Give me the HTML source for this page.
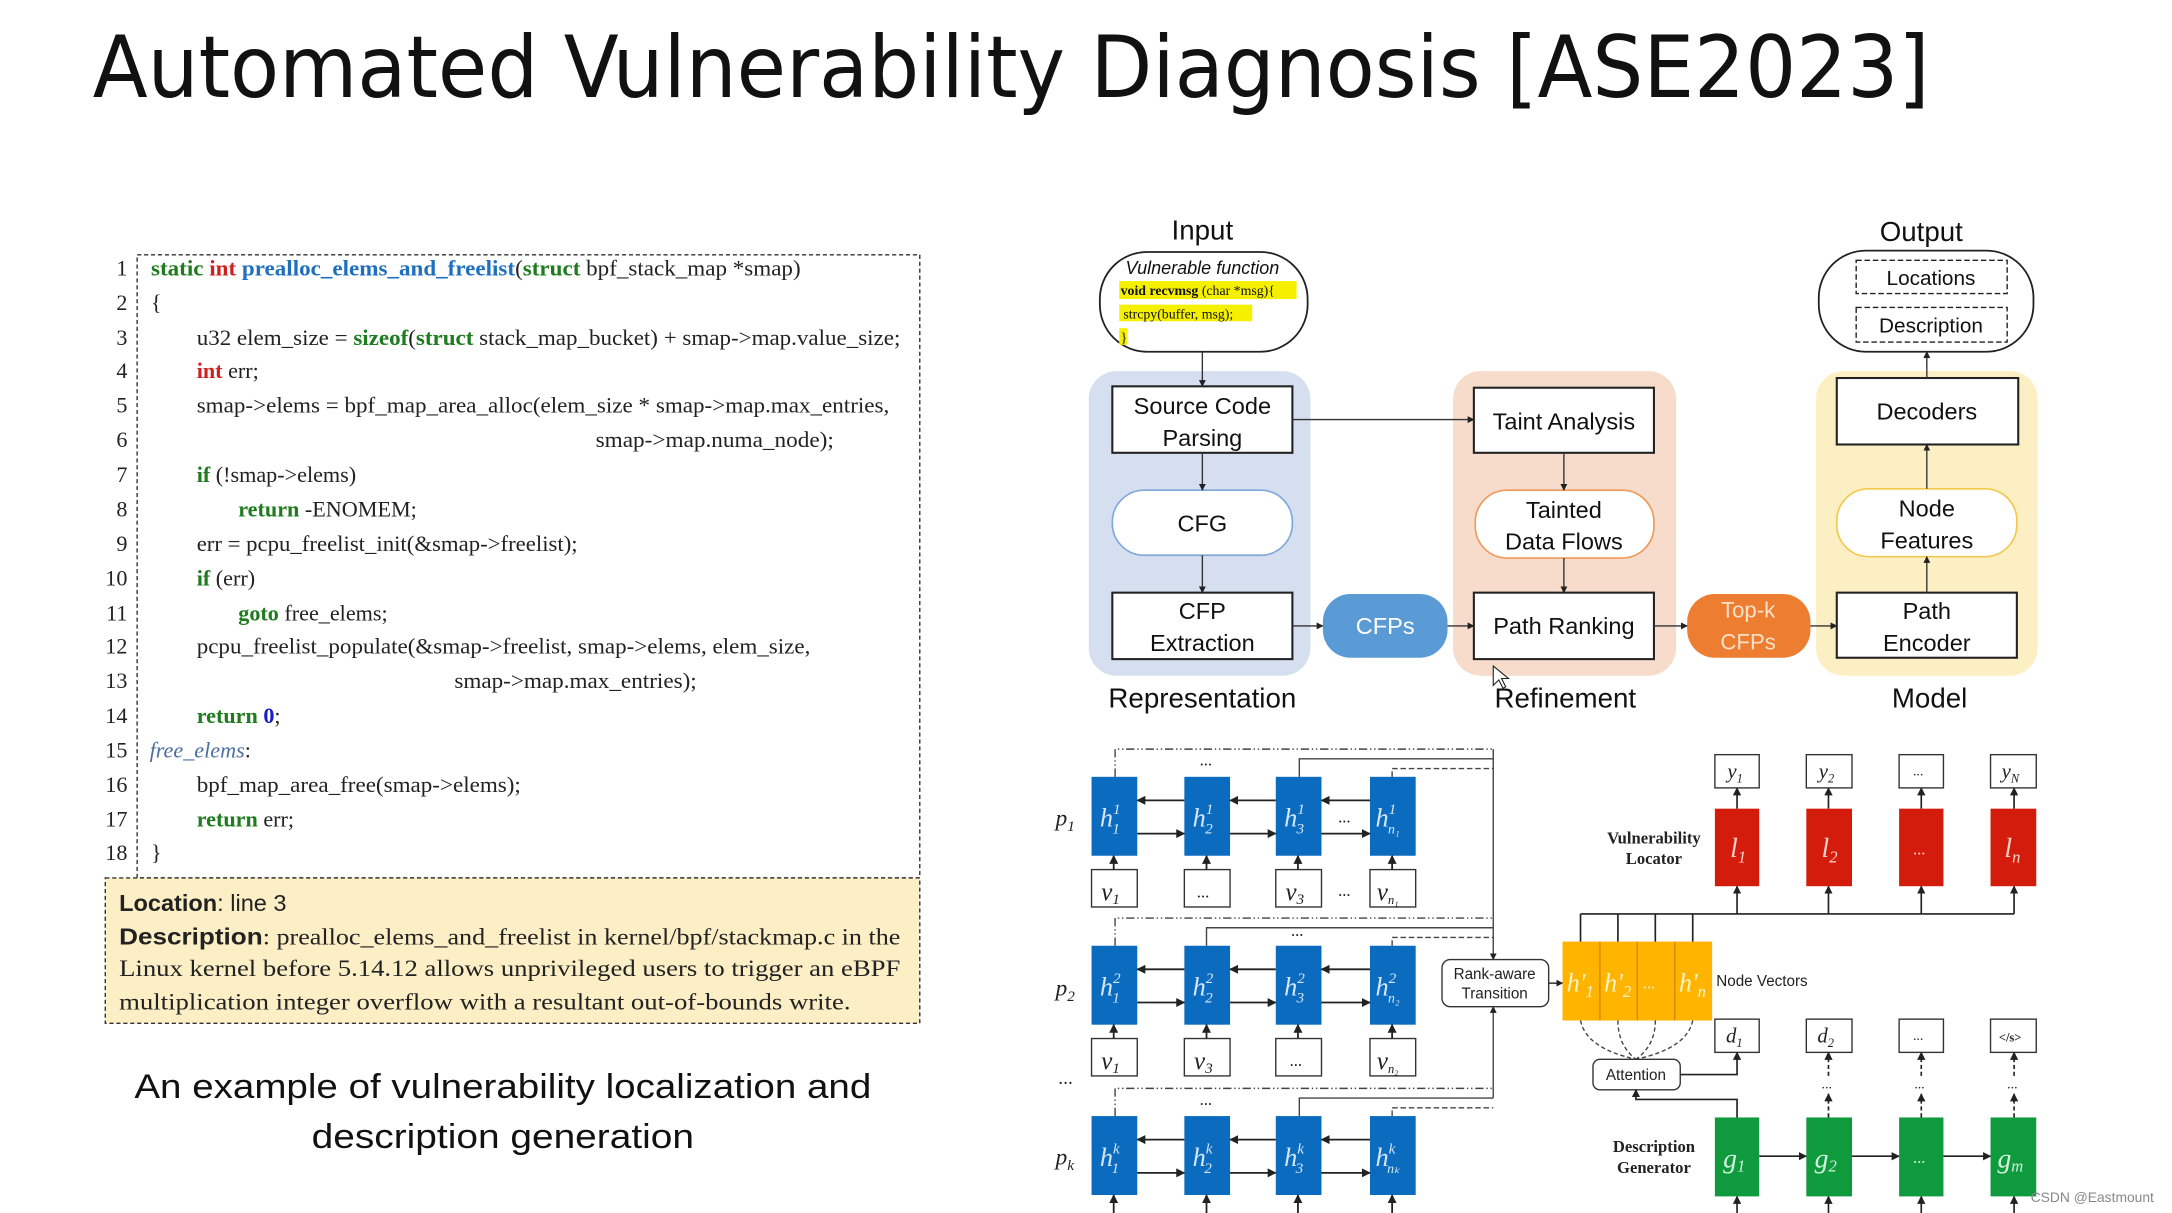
<!DOCTYPE html>
<html><head><meta charset="utf-8">
<style>
html,body{margin:0;padding:0;background:#fff;}
svg{display:block;}
.s{font-family:"Liberation Sans",sans-serif;}
.r{font-family:"Liberation Serif",serif;}
</style></head>
<body>
<svg width="2172" height="1213" viewBox="0 0 1568 876" preserveAspectRatio="none" xmlns="http://www.w3.org/2000/svg">
<defs>
<marker id="a" viewBox="0 0 10 10" refX="9" refY="5" markerWidth="5" markerHeight="5" orient="auto"><path d="M0,0L10,5L0,10z" fill="#222"/></marker>
</defs>
<rect width="1568" height="876" fill="#fff"/>
<text x="67" y="70" font-family="DejaVu Sans Condensed, DejaVu Sans, sans-serif" font-size="62" textLength="1326" lengthAdjust="spacingAndGlyphs" fill="#111">Automated Vulnerability Diagnosis [ASE2023]</text>

<!-- code box -->
<rect x="99" y="184" width="565" height="450" fill="#fff" stroke="#333" stroke-width="1" stroke-dasharray="3,2"/>
<rect x="76" y="634" width="588" height="105" fill="#fcefc5" stroke="#333" stroke-width="1" stroke-dasharray="3,2"/>
<g class="r" font-size="16" fill="#222">
<g text-anchor="end">
<text x="92" y="199">1</text><text x="92" y="224">2</text><text x="92" y="249">3</text><text x="92" y="273">4</text><text x="92" y="298">5</text><text x="92" y="323">6</text><text x="92" y="348">7</text><text x="92" y="373">8</text><text x="92" y="398">9</text><text x="92" y="423">10</text><text x="92" y="448">11</text><text x="92" y="472">12</text><text x="92" y="497">13</text><text x="92" y="522">14</text><text x="92" y="547">15</text><text x="92" y="572">16</text><text x="92" y="597">17</text><text x="92" y="621">18</text>
</g>
<text x="109" y="199" textLength="469" lengthAdjust="spacingAndGlyphs"><tspan fill="#1e7b1e" font-weight="bold">static </tspan><tspan fill="#d02020" font-weight="bold">int </tspan><tspan fill="#1f6fc0" font-weight="bold">prealloc_elems_and_freelist</tspan>(<tspan fill="#1e7b1e" font-weight="bold">struct </tspan>bpf_stack_map *smap)</text>
<text x="109" y="224">{</text>
<text x="142" y="249" textLength="508" lengthAdjust="spacingAndGlyphs">u32 elem_size = <tspan fill="#1e7b1e" font-weight="bold">sizeof</tspan>(<tspan fill="#1e7b1e" font-weight="bold">struct </tspan>stack_map_bucket) + smap-&gt;map.value_size;</text>
<text x="142" y="273"><tspan fill="#d02020" font-weight="bold">int </tspan>err;</text>
<text x="142" y="298" textLength="500" lengthAdjust="spacingAndGlyphs">smap-&gt;elems = bpf_map_area_alloc(elem_size * smap-&gt;map.max_entries,</text>
<text x="430" y="323" textLength="172" lengthAdjust="spacingAndGlyphs">smap-&gt;map.numa_node);</text>
<text x="142" y="348"><tspan fill="#1e7b1e" font-weight="bold">if </tspan>(!smap-&gt;elems)</text>
<text x="172" y="373"><tspan fill="#1e7b1e" font-weight="bold">return </tspan>-ENOMEM;</text>
<text x="142" y="398" textLength="275" lengthAdjust="spacingAndGlyphs">err = pcpu_freelist_init(&amp;smap-&gt;freelist);</text>
<text x="142" y="423"><tspan fill="#1e7b1e" font-weight="bold">if </tspan>(err)</text>
<text x="172" y="448"><tspan fill="#1e7b1e" font-weight="bold">goto </tspan>free_elems;</text>
<text x="142" y="472" textLength="443" lengthAdjust="spacingAndGlyphs">pcpu_freelist_populate(&amp;smap-&gt;freelist, smap-&gt;elems, elem_size,</text>
<text x="328" y="497" textLength="175" lengthAdjust="spacingAndGlyphs">smap-&gt;map.max_entries);</text>
<text x="142" y="522"><tspan fill="#1e7b1e" font-weight="bold">return </tspan><tspan fill="#1a1acc" font-weight="bold">0</tspan>;</text>
<text x="108" y="547"><tspan fill="#4a6fa0" font-style="italic">free_elems</tspan>:</text>
<text x="142" y="572" textLength="234" lengthAdjust="spacingAndGlyphs">bpf_map_area_free(smap-&gt;elems);</text>
<text x="142" y="597"><tspan fill="#1e7b1e" font-weight="bold">return </tspan>err;</text>
<text x="109" y="621">}</text>
</g>
<text x="86" y="658" font-size="17" fill="#222"><tspan font-weight="bold" font-family="Liberation Sans">Location</tspan><tspan font-family="Liberation Sans">: line 3</tspan></text>
<text x="86" y="682" font-size="17" fill="#222" textLength="564" lengthAdjust="spacingAndGlyphs"><tspan font-weight="bold" font-family="Liberation Sans">Description</tspan><tspan font-family="Liberation Serif">: prealloc_elems_and_freelist  in kernel/bpf/stackmap.c  in the</tspan></text>
<text x="86" y="705" class="r" font-size="17" fill="#222" textLength="564" lengthAdjust="spacingAndGlyphs">Linux kernel before 5.14.12 allows unprivileged users to trigger an eBPF</text>
<text x="86" y="729" class="r" font-size="17" fill="#222" textLength="528" lengthAdjust="spacingAndGlyphs">multiplication integer overflow with a resultant out-of-bounds write.</text>
<text x="363" y="793" class="s" font-size="25" text-anchor="middle" fill="#111" textLength="532" lengthAdjust="spacingAndGlyphs">An example of vulnerability localization and</text>
<text x="363" y="829" class="s" font-size="25" text-anchor="middle" fill="#111" textLength="276" lengthAdjust="spacingAndGlyphs">description generation</text>

<!-- top diagram -->
<g class="s" fill="#111">
<rect x="786" y="268" width="160" height="220" rx="20" fill="#d6dff0"/>
<rect x="1049" y="268" width="161" height="220" rx="20" fill="#f8dccb"/>
<rect x="1311" y="268" width="160" height="220" rx="20" fill="#fcefc4"/>
<text x="868" y="173" font-size="20" text-anchor="middle">Input</text>
<text x="1387" y="174" font-size="20" text-anchor="middle">Output</text>
<text x="868" y="511" font-size="20" text-anchor="middle">Representation</text>
<text x="1130" y="511" font-size="20" text-anchor="middle">Refinement</text>
<text x="1393" y="511" font-size="20" text-anchor="middle">Model</text>
<rect x="794" y="182" width="150" height="72" rx="34" fill="#fff" stroke="#222" stroke-width="1.3"/>
<text x="868" y="198" font-size="13" font-style="italic" text-anchor="middle">Vulnerable function</text>
<rect x="808" y="203" width="128" height="13" fill="#f5f000"/>
<rect x="808" y="220" width="96" height="12" fill="#f5f000"/>
<rect x="808" y="237" width="6" height="12" fill="#f5f000"/>
<text x="809" y="213" class="r" font-size="10"><tspan font-weight="bold">void recvmsg</tspan> (char *msg){</text>
<text x="811" y="230" class="r" font-size="10">strcpy(buffer, msg);</text>
<text x="809" y="247" class="r" font-size="10">}</text>
<rect x="1313" y="181" width="155" height="73" rx="34" fill="#fff" stroke="#222" stroke-width="1.3"/>
<rect x="1340" y="188" width="109" height="24" fill="none" stroke="#222" stroke-dasharray="4,2"/>
<rect x="1340" y="222" width="109" height="25" fill="none" stroke="#222" stroke-dasharray="4,2"/>
<text x="1394" y="206" font-size="15" text-anchor="middle">Locations</text>
<text x="1394" y="240" font-size="15" text-anchor="middle">Description</text>

<rect x="803" y="279" width="130" height="48" fill="#fff" stroke="#222" stroke-width="1.5"/>
<text x="868" y="299" font-size="17" text-anchor="middle">Source Code</text>
<text x="868" y="322" font-size="17" text-anchor="middle">Parsing</text>
<rect x="803" y="354" width="130" height="47" rx="23" fill="#fff" stroke="#7fa8dc" stroke-width="1.2"/>
<text x="868" y="384" font-size="17" text-anchor="middle">CFG</text>
<rect x="803" y="428" width="130" height="48" fill="#fff" stroke="#222" stroke-width="1.5"/>
<text x="868" y="447" font-size="17" text-anchor="middle">CFP</text>
<text x="868" y="470" font-size="17" text-anchor="middle">Extraction</text>
<rect x="955" y="429" width="90" height="46" rx="20" fill="#5b9bd5"/>
<text x="1000" y="458" font-size="17" text-anchor="middle" fill="#fff">CFPs</text>

<rect x="1064" y="280" width="130" height="47" fill="#fff" stroke="#222" stroke-width="1.5"/>
<text x="1129" y="310" font-size="17" text-anchor="middle">Taint Analysis</text>
<rect x="1065" y="354" width="129" height="49" rx="23" fill="#fff" stroke="#ee9a5a" stroke-width="1.2"/>
<text x="1129" y="374" font-size="17" text-anchor="middle">Tainted</text>
<text x="1129" y="397" font-size="17" text-anchor="middle">Data Flows</text>
<rect x="1064" y="428" width="130" height="48" fill="#fff" stroke="#222" stroke-width="1.5"/>
<text x="1129" y="458" font-size="17" text-anchor="middle">Path Ranking</text>
<rect x="1218" y="429" width="89" height="46" rx="20" fill="#ed7d31"/>
<text x="1262" y="446" font-size="16" text-anchor="middle" fill="#fde0c8">Top-k</text>
<text x="1262" y="469" font-size="16" text-anchor="middle" fill="#fde0c8">CFPs</text>

<rect x="1326" y="273" width="131" height="48" fill="#fff" stroke="#222" stroke-width="1.5"/>
<text x="1391" y="303" font-size="17" text-anchor="middle">Decoders</text>
<rect x="1326" y="353" width="130" height="49" rx="23" fill="#fff" stroke="#f2c94c" stroke-width="1.2"/>
<text x="1391" y="373" font-size="17" text-anchor="middle">Node</text>
<text x="1391" y="396" font-size="17" text-anchor="middle">Features</text>
<rect x="1326" y="428" width="130" height="47" fill="#fff" stroke="#222" stroke-width="1.5"/>
<text x="1391" y="447" font-size="17" text-anchor="middle">Path</text>
<text x="1391" y="470" font-size="17" text-anchor="middle">Encoder</text>
</g>
<g stroke="#333" stroke-width="1" fill="none" marker-end="url(#a)">
<path d="M868,254V279"/><path d="M868,327V354"/><path d="M868,401V428"/>
<path d="M933,303H1064"/><path d="M1129,327V354"/><path d="M1129,403V428"/>
<path d="M933,452H955"/><path d="M1045,452H1064"/><path d="M1194,452H1218"/><path d="M1307,452H1326"/>
<path d="M1391,428V402"/><path d="M1391,353V321"/><path d="M1391,273V254"/>
</g>

<!-- bottom left: path encoders -->
<g class="r" font-size="17" font-style="italic" fill="#222">
<text x="762" y="596">p<tspan font-size="11" dy="4">1</tspan></text>
<text x="762" y="719">p<tspan font-size="11" dy="4">2</tspan></text>
<text x="764" y="783" font-style="normal" font-size="14">...</text>
<text x="762" y="841">p<tspan font-size="11" dy="4">k</tspan></text>
</g>
<g fill="#0b6bbf">
<rect x="788" y="561" width="33" height="57"/><rect x="855" y="561" width="33" height="57"/><rect x="921" y="561" width="33" height="57"/><rect x="989" y="561" width="33" height="57"/>
<rect x="788" y="683" width="33" height="57"/><rect x="855" y="683" width="33" height="57"/><rect x="921" y="683" width="33" height="57"/><rect x="989" y="683" width="33" height="57"/>
<rect x="788" y="806" width="33" height="57"/><rect x="855" y="806" width="33" height="57"/><rect x="921" y="806" width="33" height="57"/><rect x="989" y="806" width="33" height="57"/>
</g>
<g class="r" font-style="italic" font-size="19" fill="#d5e7f8">
<text x="794" y="597">h<tspan font-size="11" dy="-9">1</tspan><tspan font-size="11" dx="-6" dy="14">1</tspan></text>
<text x="861" y="597">h<tspan font-size="11" dy="-9">1</tspan><tspan font-size="11" dx="-6" dy="14">2</tspan></text>
<text x="927" y="597">h<tspan font-size="11" dy="-9">1</tspan><tspan font-size="11" dx="-6" dy="14">3</tspan></text>
<text x="993" y="597">h<tspan font-size="11" dy="-9">1</tspan><tspan font-size="10" dx="-6" dy="14">n₁</tspan></text>
<text x="794" y="719">h<tspan font-size="11" dy="-9">2</tspan><tspan font-size="11" dx="-6" dy="14">1</tspan></text>
<text x="861" y="719">h<tspan font-size="11" dy="-9">2</tspan><tspan font-size="11" dx="-6" dy="14">2</tspan></text>
<text x="927" y="719">h<tspan font-size="11" dy="-9">2</tspan><tspan font-size="11" dx="-6" dy="14">3</tspan></text>
<text x="993" y="719">h<tspan font-size="11" dy="-9">2</tspan><tspan font-size="10" dx="-6" dy="14">n₂</tspan></text>
<text x="794" y="842">h<tspan font-size="11" dy="-9">k</tspan><tspan font-size="11" dx="-6" dy="14">1</tspan></text>
<text x="861" y="842">h<tspan font-size="11" dy="-9">k</tspan><tspan font-size="11" dx="-6" dy="14">2</tspan></text>
<text x="927" y="842">h<tspan font-size="11" dy="-9">k</tspan><tspan font-size="11" dx="-6" dy="14">3</tspan></text>
<text x="993" y="842">h<tspan font-size="11" dy="-9">k</tspan><tspan font-size="10" dx="-6" dy="14">nₖ</tspan></text>
</g>
<g fill="#fff" stroke="#333" stroke-width="1">
<rect x="788" y="628" width="33" height="27"/><rect x="855" y="628" width="33" height="27"/><rect x="921" y="628" width="33" height="27"/><rect x="989" y="628" width="33" height="27"/>
<rect x="788" y="750" width="33" height="27"/><rect x="855" y="750" width="33" height="27"/><rect x="921" y="750" width="33" height="27"/><rect x="989" y="750" width="33" height="27"/>
</g>
<g class="r" font-style="italic" font-size="18" fill="#222">
<text x="795" y="650">v<tspan font-size="11" dy="3">1</tspan></text>
<text x="864" y="648" font-style="normal" font-size="12">...</text>
<text x="928" y="650">v<tspan font-size="11" dy="3">3</tspan></text>
<text x="994" y="650">v<tspan font-size="9" dy="3">n₁</tspan></text>
<text x="795" y="772">v<tspan font-size="11" dy="3">1</tspan></text>
<text x="862" y="772">v<tspan font-size="11" dy="3">3</tspan></text>
<text x="931" y="770" font-style="normal" font-size="12">...</text>
<text x="994" y="772">v<tspan font-size="9" dy="3">n₂</tspan></text>
</g>
<g class="r" font-size="12" fill="#222">
<text x="866" y="553">...</text><text x="966" y="594">...</text><text x="966" y="647">...</text>
<text x="932" y="676">...</text><text x="866" y="798">...</text>
</g>
<g stroke="#222" stroke-width="1.3" fill="none" marker-end="url(#a)">
<path d="M855,578H821"/><path d="M921,578H888"/><path d="M989,578H954"/>
<path d="M821,602H855"/><path d="M888,602H921"/><path d="M954,602H989"/>
<path d="M855,700H821"/><path d="M921,700H888"/><path d="M989,700H954"/>
<path d="M821,724H855"/><path d="M888,724H921"/><path d="M954,724H989"/>
<path d="M855,823H821"/><path d="M921,823H888"/><path d="M989,823H954"/>
<path d="M821,847H855"/><path d="M888,847H921"/><path d="M954,847H989"/>
<path d="M804,628V618"/><path d="M871,628V618"/><path d="M937,628V618"/><path d="M1005,628V618"/>
<path d="M804,750V740"/><path d="M871,750V740"/><path d="M937,750V740"/><path d="M1005,750V740"/>
<path d="M804,876V863"/><path d="M871,876V863"/><path d="M937,876V863"/><path d="M1005,876V863"/>
</g>
<g fill="none" stroke="#444" stroke-width="1">
<path d="M805,561V541H1078" stroke-dasharray="6,2,1,2,1,2"/>
<path d="M938,561V548H1078"/>
<path d="M1005,561V555H1078" stroke-dasharray="4,2"/>
<path d="M805,683V663H1078" stroke-dasharray="6,2,1,2,1,2"/>
<path d="M871,683V670H1078"/>
<path d="M1005,683V677H1078" stroke-dasharray="4,2"/>
<path d="M805,806V786H1078" stroke-dasharray="6,2,1,2,1,2"/>
<path d="M938,806V793H1078"/>
<path d="M1005,806V800H1078" stroke-dasharray="4,2"/>
<path d="M1078,541V693" marker-end="url(#a)"/>
<path d="M1078,793V727" marker-end="url(#a)"/>
</g>
<rect x="1041" y="693" width="77" height="34" rx="6" fill="#fff" stroke="#333"/>
<text x="1079" y="707" class="s" font-size="11" text-anchor="middle" fill="#222">Rank-aware</text>
<text x="1079" y="721" class="s" font-size="11" text-anchor="middle" fill="#222">Transition</text>
<path d="M1118,710H1128" stroke="#222" marker-end="url(#a)"/>

<rect x="1128" y="680" width="108" height="57" fill="#ffb400"/>
<g stroke="#d08a00" stroke-width="1"><path d="M1155,680V737M1182,680V737M1209,680V737"/></g>
<g class="r" font-style="italic" font-size="19" fill="#fff3c8">
<text x="1131" y="716">h'<tspan font-size="12" dy="4">1</tspan></text>
<text x="1158" y="716">h'<tspan font-size="12" dy="4">2</tspan></text>
<text x="1186" y="714" font-style="normal" font-size="12">...</text>
<text x="1212" y="716">h'<tspan font-size="12" dy="4">n</tspan></text>
</g>
<text x="1239" y="712" class="s" font-size="11" fill="#222">Node Vectors</text>
<g fill="none" stroke="#222" stroke-width="1.2">
<path d="M1141,680V660M1168,680V660M1195,680V660M1222,680V660M1141,660H1454"/>
</g>
<g fill="none" stroke="#222" stroke-width="1.2" marker-end="url(#a)">
<path d="M1254,660V640"/><path d="M1320,660V640"/><path d="M1387,660V640"/><path d="M1454,660V640"/>
<path d="M1254,584V569"/><path d="M1320,584V569"/><path d="M1387,584V569"/><path d="M1454,584V569"/>
</g>
<g fill="#d41c0c"><rect x="1238" y="584" width="32" height="56"/><rect x="1304" y="584" width="33" height="56"/><rect x="1371" y="584" width="32" height="56"/><rect x="1437" y="584" width="33" height="56"/></g>
<g class="r" font-style="italic" font-size="20" fill="#fbd3cd">
<text x="1249" y="619">l<tspan font-size="12" dy="4">1</tspan></text>
<text x="1315" y="619">l<tspan font-size="12" dy="4">2</tspan></text>
<text x="1381" y="617" font-style="normal" font-size="12">...</text>
<text x="1447" y="619">l<tspan font-size="12" dy="4">n</tspan></text>
</g>
<g fill="#fff" stroke="#333"><rect x="1238" y="545" width="32" height="24"/><rect x="1304" y="545" width="33" height="24"/><rect x="1371" y="545" width="32" height="24"/><rect x="1437" y="545" width="33" height="24"/></g>
<g class="r" font-style="italic" font-size="15" fill="#222">
<text x="1247" y="562">y<tspan font-size="9" dy="3">1</tspan></text>
<text x="1313" y="562">y<tspan font-size="9" dy="3">2</tspan></text>
<text x="1381" y="560" font-style="normal" font-size="10">...</text>
<text x="1445" y="562">y<tspan font-size="9" dy="3">N</tspan></text>
</g>
<text x="1194" y="609" class="r" font-size="12" font-weight="bold" text-anchor="middle" fill="#222">Vulnerability</text>
<text x="1194" y="624" class="r" font-size="12" font-weight="bold" text-anchor="middle" fill="#222">Locator</text>

<g fill="none" stroke="#444" stroke-width="1" stroke-dasharray="3,2">
<path d="M1141,737Q1145,757 1181,765"/><path d="M1168,737Q1168,755 1181,765"/><path d="M1195,737Q1195,755 1181,765"/><path d="M1222,737Q1218,757 1181,765"/>
</g>
<rect x="1150" y="765" width="63" height="22" rx="5" fill="#fff" stroke="#333"/>
<text x="1181" y="780" class="s" font-size="11" text-anchor="middle" fill="#222">Attention</text>
<g fill="#fff" stroke="#333"><rect x="1238" y="736" width="32" height="24"/><rect x="1304" y="736" width="33" height="24"/><rect x="1371" y="736" width="32" height="24"/><rect x="1437" y="736" width="33" height="24"/></g>
<g class="r" font-style="italic" font-size="15" fill="#222">
<text x="1246" y="753">d<tspan font-size="9" dy="3">1</tspan></text>
<text x="1312" y="753">d<tspan font-size="9" dy="3">2</tspan></text>
<text x="1381" y="751" font-style="normal" font-size="10">...</text>
<text x="1443" y="752" font-style="normal" font-size="9" font-weight="bold">&lt;/s&gt;</text>
</g>
<g fill="none" stroke="#222" stroke-width="1.2" marker-end="url(#a)">
<path d="M1213,776H1254V760"/>
<path d="M1254,807V794H1181V787"/>
<path d="M1270,835H1304"/><path d="M1337,835H1371"/><path d="M1403,835H1437"/>
<path d="M1254,876V864"/><path d="M1320,876V864"/><path d="M1387,876V864"/><path d="M1454,876V864"/>
</g>
<g fill="none" stroke="#222" stroke-width="1.2" stroke-dasharray="3,2" marker-end="url(#a)">
<path d="M1320,807V790"/><path d="M1387,807V790"/><path d="M1454,807V790"/>
<path d="M1320,777V760"/><path d="M1387,777V760"/><path d="M1454,777V760"/>
</g>
<g class="r" font-size="10" fill="#222"><text x="1315" y="786">...</text><text x="1382" y="786">...</text><text x="1449" y="786">...</text></g>
<g fill="#109a3e"><rect x="1238" y="807" width="32" height="57"/><rect x="1304" y="807" width="33" height="57"/><rect x="1371" y="807" width="32" height="57"/><rect x="1437" y="807" width="33" height="57"/></g>
<g class="r" font-style="italic" font-size="20" fill="#d3f2dd">
<text x="1244" y="843">g<tspan font-size="12" dy="3">1</tspan></text>
<text x="1310" y="843">g<tspan font-size="12" dy="3">2</tspan></text>
<text x="1381" y="840" font-style="normal" font-size="12">...</text>
<text x="1442" y="843">g<tspan font-size="12" dy="3">m</tspan></text>
</g>
<text x="1194" y="832" class="r" font-size="12" font-weight="bold" text-anchor="middle" fill="#222">Description</text>
<text x="1194" y="847" class="r" font-size="12" font-weight="bold" text-anchor="middle" fill="#222">Generator</text>
<text x="1466" y="868" class="s" font-size="10" fill="#888">CSDN @Eastmount</text>
<path d="M1078,481l0,14l4,-4l3,6l2,-1l-3,-6l5,0z" fill="#fff" stroke="#222" stroke-width="0.8"/>
</svg>
</body></html>
